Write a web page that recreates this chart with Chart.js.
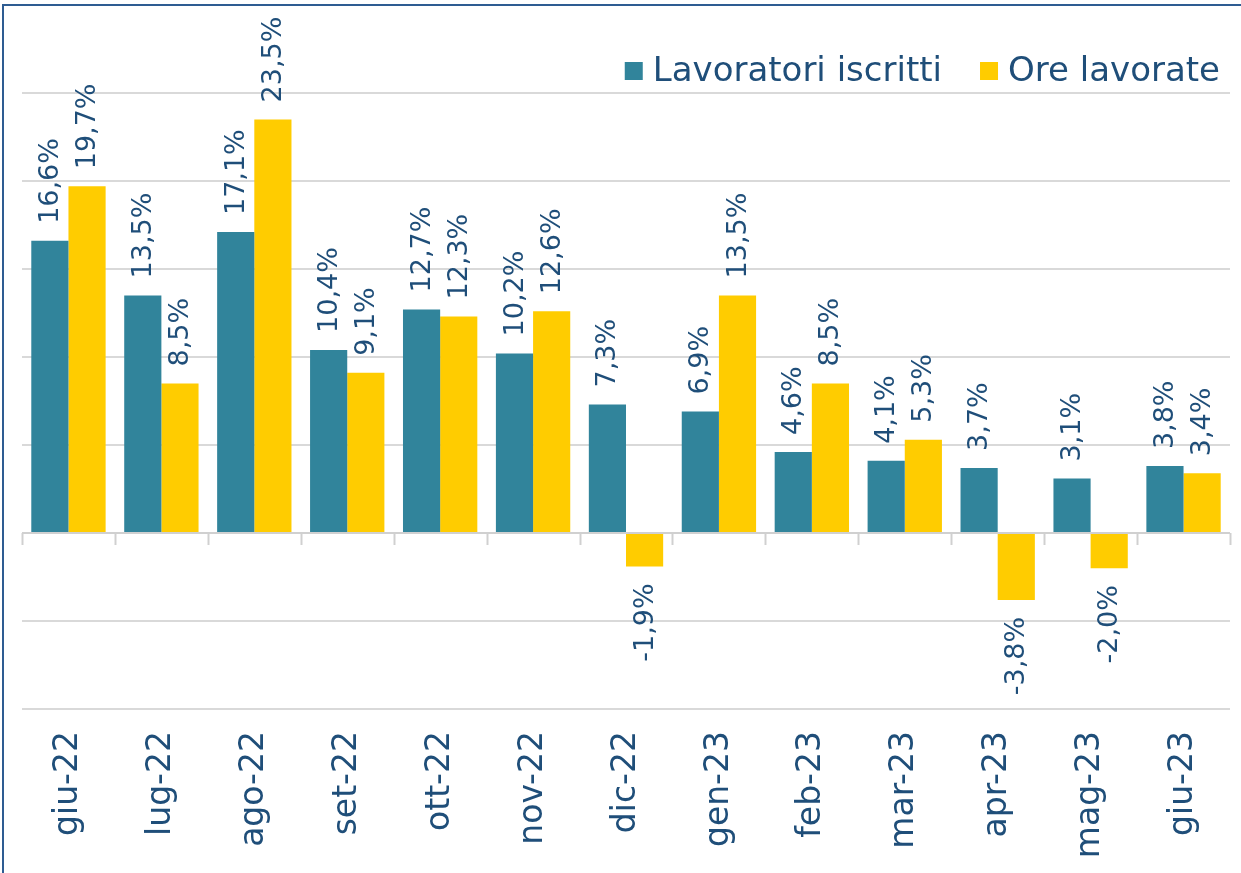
<!DOCTYPE html>
<html lang="it">
<head>
<meta charset="utf-8">
<title>Lavoratori iscritti e ore lavorate</title>
<script src="https://cdn.jsdelivr.net/npm/chart.js@4.4.1/dist/chart.umd.min.js"></script>
<style>
    html, body { margin: 0; padding: 0; background: #ffffff; overflow: hidden; }
    #wrap { position: relative; width: 1241px; height: 873px; }
    #cornice {
        position: absolute; left: 2px; top: 4px; width: 1400px; height: 1000px;
        border-top: 2px solid #2E5C92; border-left: 2px solid #2E5C92;
        pointer-events: none;
    }
    canvas { position: absolute; left: 0; top: 0; }
</style>
</head>
<body>
<div id="wrap">
    <canvas id="graficoLavoro" width="1241" height="873"></canvas>
    <div id="cornice"></div>
</div>
<script>
// dati
const mesi = ['giu-22', 'lug-22', 'ago-22', 'set-22', 'ott-22', 'nov-22', 'dic-22',
              'gen-23', 'feb-23', 'mar-23', 'apr-23', 'mag-23', 'giu-23'];
const lavoratoriIscritti = [16.6, 13.5, 17.1, 10.4, 12.7, 10.2, 7.3, 6.9, 4.6, 4.1, 3.7, 3.1, 3.8];
const oreLavorate = [19.7, 8.5, 23.5, 9.1, 12.3, 12.6, -1.9, 13.5, 8.5, 5.3, -3.8, -2.0, 3.4];
const tickAsseY = [-10, -5, 0, 5, 10, 15, 20, 25, 30];

const COLORE_TESTO = '#1F4E79';
const FONT = '"DejaVu Sans", sans-serif';

function formatPercento(v) {
    return v.toFixed(1).replace('.', ',') + '%';
}

// etichette ruotate sopra/sotto le barre
const etichetteBarre = {
    id: 'etichetteBarre',
    afterDatasetsDraw(chart) {
        const ctx = chart.ctx;
        ctx.save();
        ctx.font = '27px ' + FONT;
        ctx.fillStyle = COLORE_TESTO;
        ctx.textBaseline = 'middle';
        chart.data.datasets.forEach((ds, i) => {
            chart.getDatasetMeta(i).data.forEach((bar, j) => {
                const v = ds.data[j];
                const gap = 17;
                ctx.save();
                if (v >= 0) {
                    ctx.translate(bar.x, bar.y - gap);
                    ctx.rotate(-Math.PI / 2);
                    ctx.textAlign = 'left';
                } else {
                    ctx.translate(bar.x, bar.y + gap);
                    ctx.rotate(-Math.PI / 2);
                    ctx.textAlign = 'right';
                }
                ctx.fillText(formatPercento(v), 0, 1);
                ctx.restore();
            });
        });
        ctx.restore();
    }
};

// tacche delle categorie sulla linea dello zero
const taccheZero = {
    id: 'taccheZero',
    beforeDatasetsDraw(chart) {
        const ctx = chart.ctx;
        const x = chart.scales.x;
        const y0 = chart.scales.y.getPixelForValue(0);
        const passo = (x.right - x.left) / mesi.length;
        ctx.save();
        ctx.strokeStyle = '#d0d0d0';
        ctx.lineWidth = 2;
        for (let i = 0; i <= mesi.length; i++) {
            const px = Math.round(x.left + i * passo) + 0.5;
            ctx.beginPath();
            ctx.moveTo(px, y0);
            ctx.lineTo(px, y0 + 12);
            ctx.stroke();
        }
        ctx.restore();
    }
};

// legenda in alto a destra, dentro l'area del grafico
const legendaInterna = {
    id: 'legendaInterna',
    afterDraw(chart) {
        const ctx = chart.ctx;
        const lato = 18, spazioBox = 10, spazioVoci = 38;
        ctx.save();
        ctx.font = '34px ' + FONT;
        ctx.textBaseline = 'middle';
        ctx.textAlign = 'left';
        const voci = chart.data.datasets.map(ds => ({ testo: ds.label, colore: ds.backgroundColor }));
        let totale = 0;
        voci.forEach((v, i) => {
            v.larg = ctx.measureText(v.testo).width;
            totale += lato + spazioBox + v.larg + (i > 0 ? spazioVoci : 0);
        });
        let x = chart.chartArea.right - 10 - totale;
        const yc = 71;
        voci.forEach(v => {
            ctx.fillStyle = v.colore;
            ctx.fillRect(x, yc - lato / 2, lato, lato);
            x += lato + spazioBox;
            ctx.fillStyle = COLORE_TESTO;
            ctx.fillText(v.testo, x, yc + 1);
            x += v.larg + spazioVoci;
        });
        ctx.restore();
    }
};

const ctx = document.getElementById('graficoLavoro').getContext('2d');
new Chart(ctx, {
    type: 'bar',
    data: {
        labels: mesi,
        datasets: [
            {
                label: 'Lavoratori iscritti',
                data: lavoratoriIscritti,
                backgroundColor: '#31849B',
                categoryPercentage: 0.8,
                barPercentage: 1.0,
            },
            {
                label: 'Ore lavorate',
                data: oreLavorate,
                backgroundColor: '#FFCC00',
                categoryPercentage: 0.8,
                barPercentage: 1.0,
            },
        ],
    },
    options: {
        responsive: false,
        animation: false,
        layout: { padding: { left: 22, right: 11, top: 5, bottom: 0 } },
        plugins: {
            legend: { display: false },
            tooltip: { enabled: false },
        },
        scales: {
            x: {
                grid: { display: false },
                border: { display: false },
                ticks: {
                    autoSkip: false,
                    minRotation: 90,
                    maxRotation: 90,
                    padding: 14,
                    color: COLORE_TESTO,
                    font: { family: FONT, size: 33 },
                },
                afterFit: scale => { scale.height = 164; },
            },
            y: {
                min: tickAsseY[0],
                max: tickAsseY[tickAsseY.length - 1],
                afterBuildTicks: scale => { scale.ticks = tickAsseY.map(v => ({ value: v })); },
                ticks: { display: false },
                border: { display: false },
                grid: {
                    drawTicks: false,
                    lineWidth: 2,
                    color: c => c.tick.value === 30 ? 'rgba(0,0,0,0)' : (c.tick.value === 0 ? '#d0d0d0' : '#d9d9d9'),
                },
                afterFit: scale => { scale.width = 0; },
            },
        },
    },
    plugins: [taccheZero, etichetteBarre, legendaInterna],
});
</script>
</body>
</html>
